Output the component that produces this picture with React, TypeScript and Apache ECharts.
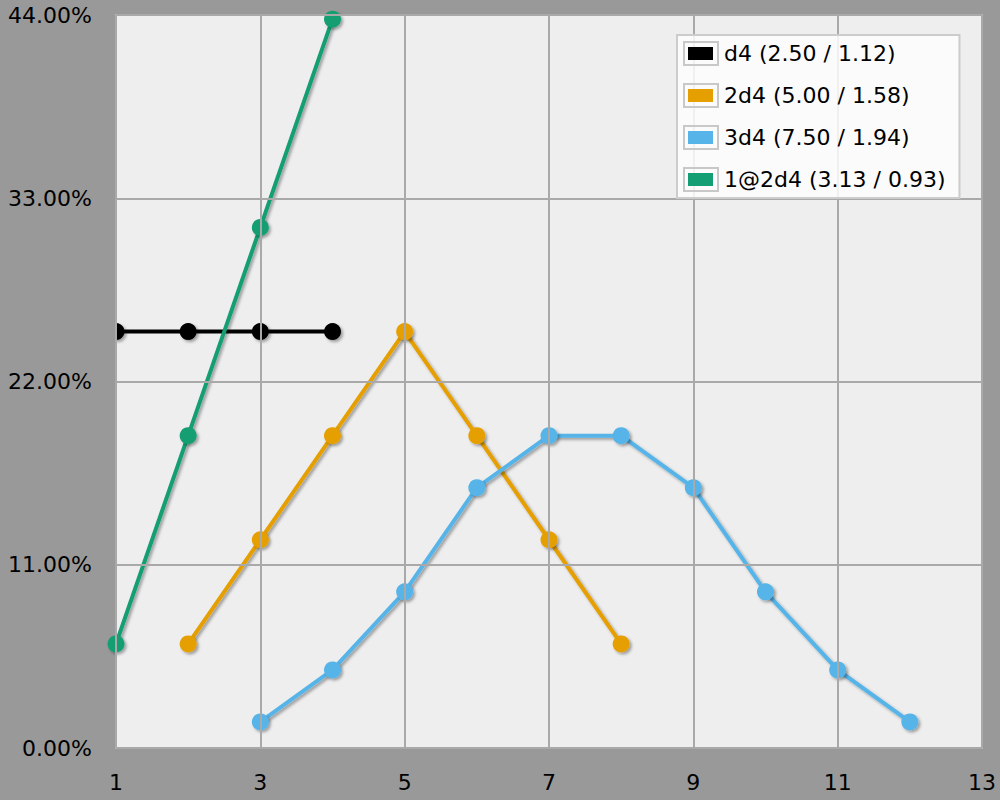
import React, { useEffect, useRef } from "react";
import * as echarts from "echarts";

const xCategories = ["1", "2", "3", "4", "5", "6", "7", "8", "9", "10", "11", "12", "13"];
const seriesNames = ["d4 (2.50 / 1.12)", "2d4 (5.00 / 1.58)", "3d4 (7.50 / 1.94)", "1@2d4 (3.13 / 0.93)"];
const seriesColors = ["#000000", "#E69F00", "#56B4E9", "#139E73"];

const d4X = [1, 2, 3, 4];
const d4Y = [25, 25, 25, 25];
const twoD4X = [2, 3, 4, 5, 6, 7, 8];
const twoD4Y = [6.25, 12.5, 18.75, 25, 18.75, 12.5, 6.25];
const threeD4X = [3, 4, 5, 6, 7, 8, 9, 10, 11, 12];
const threeD4Y = [1.5625, 4.6875, 9.375, 15.625, 18.75, 18.75, 15.625, 9.375, 4.6875, 1.5625];
const highX = [1, 2, 3, 4];
const highY = [6.25, 18.75, 31.25, 43.75];

const yMin = 0;
const yMax = 44;
const yStep = 11;

const FONT = "DejaVu Sans";
const FS = 22;

export default function App() {
  const ref = useRef<HTMLDivElement>(null);
  useEffect(() => {
    document.body.style.margin = "0";
    const chart = echarts.init(ref.current!, null, { renderer: "svg" });
    const GL = 116, GT = 15, GR = 18, GB = 52;
    const W = 1000, H = 800;
    const pw = W - GL - GR, ph = H - GT - GB;
    const xs = [d4X, twoD4X, threeD4X, highX];
    const ys = [d4Y, twoD4Y, threeD4Y, highY];
    const shadow = { shadowColor: "rgba(0,0,0,0.35)", shadowBlur: 3, shadowOffsetX: 2, shadowOffsetY: 2 };
    const series = seriesNames.map((name, k) => ({
      type: "line",
      name,
      data: xs[k].map((x, i) => [String(x), ys[k][i]]),
      symbol: "circle",
      symbolSize: 17,
      z: 2 + k,
      // a perfectly flat line has a zero-height box, so an SVG shadow filter would hide it
      lineStyle: k === 0 ? { width: 4, color: seriesColors[k] } : { width: 4, color: seriesColors[k], ...shadow },
      itemStyle: { color: seriesColors[k], ...shadow },
      emphasis: { disabled: true },
    }));
    const bg = "#999999";
    const covers = [
      { x: 0, y: 0, width: GL, height: H },
      { x: 0, y: 0, width: W, height: GT },
      { x: W - GR, y: 0, width: GR, height: H },
      { x: 0, y: H - GB, width: W, height: GB },
    ].map((s) => ({ type: "rect", z: 5, silent: true, shape: s, style: { fill: bg } }));
    const iconBorders = seriesNames.map((_, i) => ({
      type: "rect",
      z: 100,
      silent: true,
      shape: { x: 684, y: 42 + i * 42, width: 34, height: 23 },
      style: { fill: "none", stroke: "#c8c8c8", lineWidth: 2 },
    }));
    chart.setOption({
      animation: false,
      backgroundColor: bg,
      textStyle: { fontFamily: FONT },
      grid: { left: GL, top: GT, right: GR, bottom: GB, show: true, backgroundColor: "#eeeeee", borderWidth: 0 },
      xAxis: {
        type: "category",
        data: xCategories,
        boundaryGap: false,
        z: 10,
        axisLine: { show: false },
        axisTick: { show: false },
        axisLabel: { interval: 1, margin: 23, fontSize: FS, color: "#000", fontFamily: FONT },
        splitLine: { show: true, interval: 1, lineStyle: { color: "#a9a9a9", width: 2 } },
      },
      yAxis: {
        type: "value",
        min: yMin,
        max: yMax,
        interval: yStep,
        z: 10,
        axisLine: { show: false },
        axisTick: { show: false },
        axisLabel: { margin: 24, fontSize: FS, color: "#000", fontFamily: FONT, formatter: (v: number) => v.toFixed(2) + "%" },
        splitLine: { show: true, lineStyle: { color: "#a9a9a9", width: 2 } },
      },
      legend: {
        data: seriesNames,
        orient: "vertical",
        left: 677,
        top: 35,
        z: 20,
        padding: [6, 14, 6, 11],
        itemGap: 17,
        itemWidth: 25,
        itemHeight: 13,
        icon: "rect",
        selectedMode: false,
        backgroundColor: "rgba(253,253,253,0.85)",
        borderColor: "#cccccc",
        borderWidth: 2,
        textStyle: { fontFamily: FONT, fontSize: FS, color: "#000", lineHeight: 25, padding: [0, 0, 0, 6] },
      },
      graphic: [
        ...covers,
        {
          type: "rect",
          z: 6,
          silent: true,
          shape: { x: GL, y: GT, width: pw, height: ph },
          style: { fill: "none", stroke: "#bbbbbb", lineWidth: 2 },
        },
        ...iconBorders,
      ],
      series,
    });
    return () => chart.dispose();
  }, []);
  return <div ref={ref} style={{ position: "fixed", left: 0, top: 0, width: 1000, height: 800 }} />;
}
